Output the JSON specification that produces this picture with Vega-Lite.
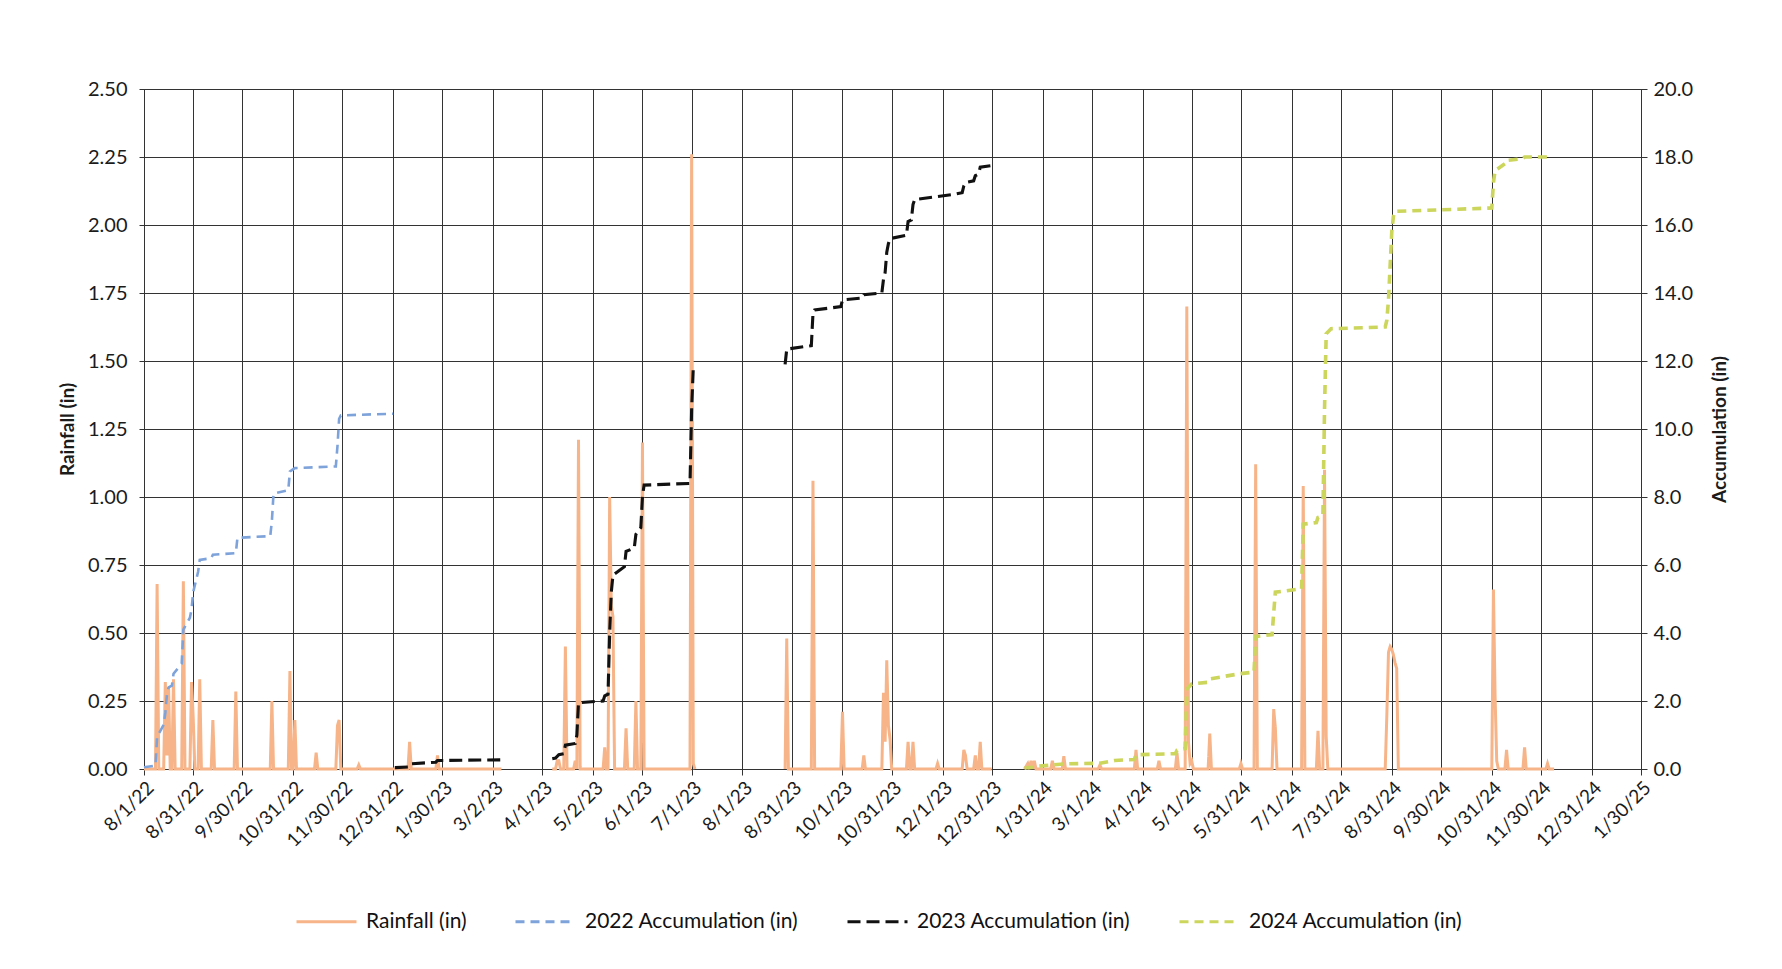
{
  "$schema": "https://vega.github.io/schema/vega-lite/v6.json",
  "autosize": {"type": "none"},
  "padding": {"left": 144, "top": 89, "right": 141, "bottom": 200},
  "width": 1497,
  "height": 680,
  "background": "white",
  "config": {
    "view": {"stroke": "#333333", "strokeWidth": 1},
    "font": "Lato",
    "axis": {
      "labelFont": "Lato", "titleFont": "Lato",
      "labelColor": "#1b1b1b", "titleColor": "#1b1b1b",
      "domainColor": "#333333", "tickColor": "#333333",
      "gridColor": "#333333", "gridOpacity": 1, "gridWidth": 1,
      "labelFontSize": 19, "titleFontSize": 19, "titleFontWeight": "bold"
    }
  },
  "datasets": {
    "rain": [
      {"d": "2022-08-01", "r": 0, "g": 1}, {"d": "2022-08-08", "r": 0, "g": 1}, {"d": "2022-08-09", "r": 0.68, "g": 1}, {"d": "2022-08-10", "r": 0, "g": 1},
      {"d": "2022-08-13", "r": 0, "g": 1}, {"d": "2022-08-14", "r": 0.32, "g": 1}, {"d": "2022-08-15", "r": 0.05, "g": 1}, {"d": "2022-08-16", "r": 0.3, "g": 1}, {"d": "2022-08-17", "r": 0, "g": 1},
      {"d": "2022-08-18", "r": 0, "g": 1}, {"d": "2022-08-19", "r": 0.33, "g": 1}, {"d": "2022-08-20", "r": 0, "g": 1},
      {"d": "2022-08-24", "r": 0, "g": 1}, {"d": "2022-08-25", "r": 0.69, "g": 1}, {"d": "2022-08-26", "r": 0, "g": 1},
      {"d": "2022-08-29", "r": 0, "g": 1}, {"d": "2022-08-30", "r": 0.32, "g": 1}, {"d": "2022-08-31", "r": 0.19, "g": 1}, {"d": "2022-09-01", "r": 0, "g": 1},
      {"d": "2022-09-03", "r": 0, "g": 1}, {"d": "2022-09-04", "r": 0.33, "g": 1}, {"d": "2022-09-05", "r": 0, "g": 1},
      {"d": "2022-09-11", "r": 0, "g": 1}, {"d": "2022-09-12", "r": 0.18, "g": 1}, {"d": "2022-09-13", "r": 0, "g": 1},
      {"d": "2022-09-25", "r": 0, "g": 1}, {"d": "2022-09-26", "r": 0.285, "g": 1}, {"d": "2022-09-27", "r": 0, "g": 1},
      {"d": "2022-10-17", "r": 0, "g": 1}, {"d": "2022-10-18", "r": 0.25, "g": 1}, {"d": "2022-10-19", "r": 0, "g": 1},
      {"d": "2022-10-28", "r": 0, "g": 1}, {"d": "2022-10-29", "r": 0.36, "g": 1}, {"d": "2022-10-30", "r": 0, "g": 1},
      {"d": "2022-10-31", "r": 0, "g": 1}, {"d": "2022-11-01", "r": 0.18, "g": 1}, {"d": "2022-11-02", "r": 0, "g": 1},
      {"d": "2022-11-13", "r": 0, "g": 1}, {"d": "2022-11-14", "r": 0.06, "g": 1}, {"d": "2022-11-15", "r": 0, "g": 1},
      {"d": "2022-11-26", "r": 0, "g": 1}, {"d": "2022-11-27", "r": 0.16, "g": 1}, {"d": "2022-11-28", "r": 0.18, "g": 1}, {"d": "2022-11-29", "r": 0, "g": 1},
      {"d": "2022-12-09", "r": 0, "g": 1}, {"d": "2022-12-10", "r": 0.015, "g": 1}, {"d": "2022-12-11", "r": 0, "g": 1},
      {"d": "2023-01-09", "r": 0, "g": 1}, {"d": "2023-01-10", "r": 0.1, "g": 1}, {"d": "2023-01-11", "r": 0, "g": 1},
      {"d": "2023-01-26", "r": 0, "g": 1}, {"d": "2023-01-27", "r": 0.05, "g": 1}, {"d": "2023-01-28", "r": 0, "g": 1},
      {"d": "2023-03-07", "r": 0, "g": 1},
      {"d": "2023-04-07", "r": 0, "g": 2}, {"d": "2023-04-09", "r": 0, "g": 2}, {"d": "2023-04-10", "r": 0.03, "g": 2}, {"d": "2023-04-11", "r": 0.03, "g": 2}, {"d": "2023-04-12", "r": 0, "g": 2},
      {"d": "2023-04-14", "r": 0, "g": 2}, {"d": "2023-04-15", "r": 0.45, "g": 2}, {"d": "2023-04-16", "r": 0, "g": 2},
      {"d": "2023-04-20", "r": 0, "g": 2}, {"d": "2023-04-21", "r": 0.03, "g": 2}, {"d": "2023-04-22", "r": 0, "g": 2}, {"d": "2023-04-23", "r": 1.21, "g": 2}, {"d": "2023-04-24", "r": 0, "g": 2},
      {"d": "2023-05-08", "r": 0, "g": 2}, {"d": "2023-05-09", "r": 0.08, "g": 2}, {"d": "2023-05-10", "r": 0, "g": 2},
      {"d": "2023-05-11", "r": 0, "g": 2}, {"d": "2023-05-12", "r": 1.0, "g": 2}, {"d": "2023-05-13", "r": 0.6, "g": 2}, {"d": "2023-05-14", "r": 0.56, "g": 2}, {"d": "2023-05-15", "r": 0, "g": 2},
      {"d": "2023-05-21", "r": 0, "g": 2}, {"d": "2023-05-22", "r": 0.15, "g": 2}, {"d": "2023-05-23", "r": 0, "g": 2},
      {"d": "2023-05-27", "r": 0, "g": 2}, {"d": "2023-05-28", "r": 0.25, "g": 2}, {"d": "2023-05-29", "r": 0, "g": 2},
      {"d": "2023-05-31", "r": 0, "g": 2}, {"d": "2023-06-01", "r": 1.2, "g": 2}, {"d": "2023-06-02", "r": 0, "g": 2},
      {"d": "2023-06-30", "r": 0, "g": 2}, {"d": "2023-07-01", "r": 2.26, "g": 2}, {"d": "2023-07-02", "r": 0.02, "g": 2}, {"d": "2023-07-03", "r": 0, "g": 2},
      {"d": "2023-08-27", "r": 0, "g": 3}, {"d": "2023-08-28", "r": 0.48, "g": 3}, {"d": "2023-08-29", "r": 0, "g": 3},
      {"d": "2023-09-12", "r": 0, "g": 3}, {"d": "2023-09-13", "r": 1.06, "g": 3}, {"d": "2023-09-14", "r": 0, "g": 3},
      {"d": "2023-09-30", "r": 0, "g": 3}, {"d": "2023-10-01", "r": 0.21, "g": 3}, {"d": "2023-10-02", "r": 0, "g": 3},
      {"d": "2023-10-13", "r": 0, "g": 3}, {"d": "2023-10-14", "r": 0.05, "g": 3}, {"d": "2023-10-15", "r": 0, "g": 3},
      {"d": "2023-10-25", "r": 0, "g": 3}, {"d": "2023-10-26", "r": 0.28, "g": 3}, {"d": "2023-10-27", "r": 0.1, "g": 3}, {"d": "2023-10-28", "r": 0.4, "g": 3}, {"d": "2023-10-29", "r": 0.16, "g": 3}, {"d": "2023-10-30", "r": 0.11, "g": 3}, {"d": "2023-10-31", "r": 0, "g": 3},
      {"d": "2023-11-09", "r": 0, "g": 3}, {"d": "2023-11-10", "r": 0.1, "g": 3}, {"d": "2023-11-11", "r": 0, "g": 3},
      {"d": "2023-11-12", "r": 0, "g": 3}, {"d": "2023-11-13", "r": 0.1, "g": 3}, {"d": "2023-11-14", "r": 0, "g": 3},
      {"d": "2023-11-27", "r": 0, "g": 3}, {"d": "2023-11-28", "r": 0.02, "g": 3}, {"d": "2023-11-29", "r": 0, "g": 3},
      {"d": "2023-12-13", "r": 0, "g": 3}, {"d": "2023-12-14", "r": 0.07, "g": 3}, {"d": "2023-12-15", "r": 0.05, "g": 3}, {"d": "2023-12-16", "r": 0, "g": 3},
      {"d": "2023-12-20", "r": 0, "g": 3}, {"d": "2023-12-21", "r": 0.05, "g": 3}, {"d": "2023-12-22", "r": 0, "g": 3},
      {"d": "2023-12-23", "r": 0, "g": 3}, {"d": "2023-12-24", "r": 0.1, "g": 3}, {"d": "2023-12-25", "r": 0, "g": 3},
      {"d": "2023-12-31", "r": 0, "g": 3},
      {"d": "2024-01-20", "r": 0, "g": 4}, {"d": "2024-01-22", "r": 0.02, "g": 4}, {"d": "2024-01-23", "r": 0, "g": 4}, {"d": "2024-01-24", "r": 0.03, "g": 4}, {"d": "2024-01-25", "r": 0, "g": 4}, {"d": "2024-01-26", "r": 0.03, "g": 4}, {"d": "2024-01-27", "r": 0, "g": 4},
      {"d": "2024-02-05", "r": 0, "g": 4}, {"d": "2024-02-06", "r": 0.03, "g": 4}, {"d": "2024-02-07", "r": 0, "g": 4},
      {"d": "2024-02-12", "r": 0, "g": 4}, {"d": "2024-02-13", "r": 0.047, "g": 4}, {"d": "2024-02-14", "r": 0, "g": 4},
      {"d": "2024-03-05", "r": 0, "g": 4}, {"d": "2024-03-06", "r": 0.015, "g": 4}, {"d": "2024-03-07", "r": 0, "g": 4},
      {"d": "2024-03-27", "r": 0, "g": 4}, {"d": "2024-03-28", "r": 0.07, "g": 4}, {"d": "2024-03-29", "r": 0, "g": 4},
      {"d": "2024-04-10", "r": 0, "g": 4}, {"d": "2024-04-11", "r": 0.03, "g": 4}, {"d": "2024-04-12", "r": 0, "g": 4},
      {"d": "2024-04-21", "r": 0, "g": 4}, {"d": "2024-04-22", "r": 0.06, "g": 4}, {"d": "2024-04-23", "r": 0, "g": 4},
      {"d": "2024-04-27", "r": 0, "g": 4}, {"d": "2024-04-28", "r": 1.7, "g": 4}, {"d": "2024-04-29", "r": 0.1, "g": 4}, {"d": "2024-04-30", "r": 0.02, "g": 4}, {"d": "2024-05-01", "r": 0.03, "g": 4}, {"d": "2024-05-02", "r": 0, "g": 4},
      {"d": "2024-05-11", "r": 0, "g": 4}, {"d": "2024-05-12", "r": 0.13, "g": 4}, {"d": "2024-05-13", "r": 0, "g": 4},
      {"d": "2024-05-30", "r": 0, "g": 4}, {"d": "2024-05-31", "r": 0.02, "g": 4}, {"d": "2024-06-01", "r": 0, "g": 4},
      {"d": "2024-06-08", "r": 0, "g": 4}, {"d": "2024-06-09", "r": 1.12, "g": 4}, {"d": "2024-06-10", "r": 0, "g": 4},
      {"d": "2024-06-19", "r": 0, "g": 4}, {"d": "2024-06-20", "r": 0.22, "g": 4}, {"d": "2024-06-21", "r": 0.15, "g": 4}, {"d": "2024-06-22", "r": 0, "g": 4},
      {"d": "2024-07-07", "r": 0, "g": 4}, {"d": "2024-07-08", "r": 1.04, "g": 4}, {"d": "2024-07-09", "r": 0, "g": 4},
      {"d": "2024-07-16", "r": 0, "g": 4}, {"d": "2024-07-17", "r": 0.14, "g": 4}, {"d": "2024-07-18", "r": 0, "g": 4},
      {"d": "2024-07-20", "r": 0, "g": 4}, {"d": "2024-07-21", "r": 1.1, "g": 4}, {"d": "2024-07-22", "r": 0.12, "g": 4}, {"d": "2024-07-23", "r": 0, "g": 4},
      {"d": "2024-08-27", "r": 0, "g": 4}, {"d": "2024-08-28", "r": 0.2, "g": 4}, {"d": "2024-08-29", "r": 0.43, "g": 4}, {"d": "2024-08-30", "r": 0.45, "g": 4}, {"d": "2024-08-31", "r": 0.44, "g": 4}, {"d": "2024-09-01", "r": 0.42, "g": 4}, {"d": "2024-09-02", "r": 0.39, "g": 4}, {"d": "2024-09-03", "r": 0.37, "g": 4}, {"d": "2024-09-04", "r": 0, "g": 4},
      {"d": "2024-10-31", "r": 0, "g": 4}, {"d": "2024-11-01", "r": 0.66, "g": 4}, {"d": "2024-11-02", "r": 0.27, "g": 4}, {"d": "2024-11-03", "r": 0.03, "g": 4}, {"d": "2024-11-04", "r": 0, "g": 4},
      {"d": "2024-11-08", "r": 0, "g": 4}, {"d": "2024-11-09", "r": 0.07, "g": 4}, {"d": "2024-11-10", "r": 0, "g": 4},
      {"d": "2024-11-19", "r": 0, "g": 4}, {"d": "2024-11-20", "r": 0.08, "g": 4}, {"d": "2024-11-21", "r": 0, "g": 4},
      {"d": "2024-12-03", "r": 0, "g": 4}, {"d": "2024-12-04", "r": 0.02, "g": 4}, {"d": "2024-12-05", "r": 0, "g": 4},
      {"d": "2024-12-08", "r": 0, "g": 4}
    ],
    "acc": [
      {"d": "2022-08-01", "a": 0.05, "s": "2022 Accumulation (in)", "g": 1}, {"d": "2022-08-08", "a": 0.1, "s": "2022 Accumulation (in)", "g": 1},
      {"d": "2022-08-09", "a": 0.95, "s": "2022 Accumulation (in)", "g": 1}, {"d": "2022-08-13", "a": 1.3, "s": "2022 Accumulation (in)", "g": 1},
      {"d": "2022-08-14", "a": 1.65, "s": "2022 Accumulation (in)", "g": 1}, {"d": "2022-08-15", "a": 2.2, "s": "2022 Accumulation (in)", "g": 1},
      {"d": "2022-08-16", "a": 2.4, "s": "2022 Accumulation (in)", "g": 1}, {"d": "2022-08-18", "a": 2.45, "s": "2022 Accumulation (in)", "g": 1},
      {"d": "2022-08-19", "a": 2.8, "s": "2022 Accumulation (in)", "g": 1}, {"d": "2022-08-24", "a": 3.1, "s": "2022 Accumulation (in)", "g": 1},
      {"d": "2022-08-25", "a": 4.1, "s": "2022 Accumulation (in)", "g": 1}, {"d": "2022-08-29", "a": 4.45, "s": "2022 Accumulation (in)", "g": 1},
      {"d": "2022-08-30", "a": 4.7, "s": "2022 Accumulation (in)", "g": 1}, {"d": "2022-08-31", "a": 5.2, "s": "2022 Accumulation (in)", "g": 1},
      {"d": "2022-09-03", "a": 5.8, "s": "2022 Accumulation (in)", "g": 1}, {"d": "2022-09-04", "a": 6.15, "s": "2022 Accumulation (in)", "g": 1},
      {"d": "2022-09-11", "a": 6.2, "s": "2022 Accumulation (in)", "g": 1}, {"d": "2022-09-12", "a": 6.3, "s": "2022 Accumulation (in)", "g": 1},
      {"d": "2022-09-26", "a": 6.35, "s": "2022 Accumulation (in)", "g": 1}, {"d": "2022-09-27", "a": 6.8, "s": "2022 Accumulation (in)", "g": 1},
      {"d": "2022-10-17", "a": 6.85, "s": "2022 Accumulation (in)", "g": 1}, {"d": "2022-10-18", "a": 7.3, "s": "2022 Accumulation (in)", "g": 1},
      {"d": "2022-10-19", "a": 8.1, "s": "2022 Accumulation (in)", "g": 1}, {"d": "2022-10-28", "a": 8.2, "s": "2022 Accumulation (in)", "g": 1},
      {"d": "2022-10-29", "a": 8.75, "s": "2022 Accumulation (in)", "g": 1}, {"d": "2022-11-01", "a": 8.85, "s": "2022 Accumulation (in)", "g": 1},
      {"d": "2022-11-26", "a": 8.9, "s": "2022 Accumulation (in)", "g": 1}, {"d": "2022-11-27", "a": 9.5, "s": "2022 Accumulation (in)", "g": 1},
      {"d": "2022-11-28", "a": 10.3, "s": "2022 Accumulation (in)", "g": 1}, {"d": "2022-11-29", "a": 10.4, "s": "2022 Accumulation (in)", "g": 1},
      {"d": "2022-12-31", "a": 10.45, "s": "2022 Accumulation (in)", "g": 1},

      {"d": "2023-01-01", "a": 0.04, "s": "2023 Accumulation (in)", "g": 1}, {"d": "2023-01-09", "a": 0.06, "s": "2023 Accumulation (in)", "g": 1},
      {"d": "2023-01-10", "a": 0.15, "s": "2023 Accumulation (in)", "g": 1}, {"d": "2023-01-26", "a": 0.2, "s": "2023 Accumulation (in)", "g": 1},
      {"d": "2023-01-27", "a": 0.25, "s": "2023 Accumulation (in)", "g": 1}, {"d": "2023-03-07", "a": 0.27, "s": "2023 Accumulation (in)", "g": 1},
      {"d": "2023-04-07", "a": 0.3, "s": "2023 Accumulation (in)", "g": 2}, {"d": "2023-04-09", "a": 0.32, "s": "2023 Accumulation (in)", "g": 2},
      {"d": "2023-04-11", "a": 0.42, "s": "2023 Accumulation (in)", "g": 2}, {"d": "2023-04-14", "a": 0.45, "s": "2023 Accumulation (in)", "g": 2},
      {"d": "2023-04-15", "a": 0.7, "s": "2023 Accumulation (in)", "g": 2}, {"d": "2023-04-21", "a": 0.75, "s": "2023 Accumulation (in)", "g": 2},
      {"d": "2023-04-22", "a": 1.0, "s": "2023 Accumulation (in)", "g": 2}, {"d": "2023-04-23", "a": 1.95, "s": "2023 Accumulation (in)", "g": 2},
      {"d": "2023-05-08", "a": 2.0, "s": "2023 Accumulation (in)", "g": 2}, {"d": "2023-05-09", "a": 2.15, "s": "2023 Accumulation (in)", "g": 2},
      {"d": "2023-05-11", "a": 2.2, "s": "2023 Accumulation (in)", "g": 2}, {"d": "2023-05-12", "a": 4.0, "s": "2023 Accumulation (in)", "g": 2},
      {"d": "2023-05-13", "a": 5.2, "s": "2023 Accumulation (in)", "g": 2}, {"d": "2023-05-14", "a": 5.7, "s": "2023 Accumulation (in)", "g": 2},
      {"d": "2023-05-21", "a": 5.95, "s": "2023 Accumulation (in)", "g": 2}, {"d": "2023-05-22", "a": 6.4, "s": "2023 Accumulation (in)", "g": 2},
      {"d": "2023-05-27", "a": 6.5, "s": "2023 Accumulation (in)", "g": 2}, {"d": "2023-05-28", "a": 6.9, "s": "2023 Accumulation (in)", "g": 2},
      {"d": "2023-05-31", "a": 7.1, "s": "2023 Accumulation (in)", "g": 2}, {"d": "2023-06-01", "a": 8.0, "s": "2023 Accumulation (in)", "g": 2},
      {"d": "2023-06-02", "a": 8.35, "s": "2023 Accumulation (in)", "g": 2}, {"d": "2023-06-30", "a": 8.4, "s": "2023 Accumulation (in)", "g": 2},
      {"d": "2023-07-01", "a": 10.6, "s": "2023 Accumulation (in)", "g": 2}, {"d": "2023-07-02", "a": 11.8, "s": "2023 Accumulation (in)", "g": 2},
      {"d": "2023-07-03", "a": 11.85, "s": "2023 Accumulation (in)", "g": 2},
      {"d": "2023-08-27", "a": 11.9, "s": "2023 Accumulation (in)", "g": 3}, {"d": "2023-08-28", "a": 12.35, "s": "2023 Accumulation (in)", "g": 3},
      {"d": "2023-09-12", "a": 12.45, "s": "2023 Accumulation (in)", "g": 3}, {"d": "2023-09-13", "a": 13.4, "s": "2023 Accumulation (in)", "g": 3},
      {"d": "2023-09-14", "a": 13.5, "s": "2023 Accumulation (in)", "g": 3}, {"d": "2023-09-30", "a": 13.6, "s": "2023 Accumulation (in)", "g": 3},
      {"d": "2023-10-01", "a": 13.8, "s": "2023 Accumulation (in)", "g": 3}, {"d": "2023-10-13", "a": 13.85, "s": "2023 Accumulation (in)", "g": 3},
      {"d": "2023-10-14", "a": 13.95, "s": "2023 Accumulation (in)", "g": 3}, {"d": "2023-10-25", "a": 14.0, "s": "2023 Accumulation (in)", "g": 3},
      {"d": "2023-10-26", "a": 14.4, "s": "2023 Accumulation (in)", "g": 3}, {"d": "2023-10-27", "a": 14.6, "s": "2023 Accumulation (in)", "g": 3},
      {"d": "2023-10-28", "a": 15.2, "s": "2023 Accumulation (in)", "g": 3}, {"d": "2023-10-29", "a": 15.45, "s": "2023 Accumulation (in)", "g": 3},
      {"d": "2023-10-30", "a": 15.6, "s": "2023 Accumulation (in)", "g": 3}, {"d": "2023-11-09", "a": 15.7, "s": "2023 Accumulation (in)", "g": 3},
      {"d": "2023-11-10", "a": 16.1, "s": "2023 Accumulation (in)", "g": 3}, {"d": "2023-11-12", "a": 16.15, "s": "2023 Accumulation (in)", "g": 3},
      {"d": "2023-11-13", "a": 16.6, "s": "2023 Accumulation (in)", "g": 3}, {"d": "2023-11-14", "a": 16.75, "s": "2023 Accumulation (in)", "g": 3},
      {"d": "2023-12-08", "a": 16.9, "s": "2023 Accumulation (in)", "g": 3}, {"d": "2023-12-13", "a": 16.95, "s": "2023 Accumulation (in)", "g": 3},
      {"d": "2023-12-14", "a": 17.15, "s": "2023 Accumulation (in)", "g": 3}, {"d": "2023-12-15", "a": 17.25, "s": "2023 Accumulation (in)", "g": 3},
      {"d": "2023-12-20", "a": 17.3, "s": "2023 Accumulation (in)", "g": 3}, {"d": "2023-12-21", "a": 17.45, "s": "2023 Accumulation (in)", "g": 3},
      {"d": "2023-12-23", "a": 17.5, "s": "2023 Accumulation (in)", "g": 3}, {"d": "2023-12-24", "a": 17.7, "s": "2023 Accumulation (in)", "g": 3},
      {"d": "2023-12-31", "a": 17.75, "s": "2023 Accumulation (in)", "g": 3},

      {"d": "2024-01-20", "a": 0.03, "s": "2024 Accumulation (in)", "g": 1}, {"d": "2024-01-25", "a": 0.05, "s": "2024 Accumulation (in)", "g": 1},
      {"d": "2024-01-28", "a": 0.08, "s": "2024 Accumulation (in)", "g": 1}, {"d": "2024-02-06", "a": 0.12, "s": "2024 Accumulation (in)", "g": 1},
      {"d": "2024-02-13", "a": 0.15, "s": "2024 Accumulation (in)", "g": 1}, {"d": "2024-03-06", "a": 0.17, "s": "2024 Accumulation (in)", "g": 1},
      {"d": "2024-03-15", "a": 0.25, "s": "2024 Accumulation (in)", "g": 1}, {"d": "2024-03-27", "a": 0.28, "s": "2024 Accumulation (in)", "g": 1},
      {"d": "2024-03-28", "a": 0.42, "s": "2024 Accumulation (in)", "g": 1}, {"d": "2024-04-21", "a": 0.45, "s": "2024 Accumulation (in)", "g": 1},
      {"d": "2024-04-22", "a": 0.55, "s": "2024 Accumulation (in)", "g": 1}, {"d": "2024-04-27", "a": 0.6, "s": "2024 Accumulation (in)", "g": 1},
      {"d": "2024-04-28", "a": 2.35, "s": "2024 Accumulation (in)", "g": 1}, {"d": "2024-05-01", "a": 2.5, "s": "2024 Accumulation (in)", "g": 1},
      {"d": "2024-05-11", "a": 2.55, "s": "2024 Accumulation (in)", "g": 1}, {"d": "2024-05-12", "a": 2.65, "s": "2024 Accumulation (in)", "g": 1},
      {"d": "2024-05-30", "a": 2.8, "s": "2024 Accumulation (in)", "g": 1}, {"d": "2024-06-08", "a": 2.85, "s": "2024 Accumulation (in)", "g": 1},
      {"d": "2024-06-09", "a": 3.9, "s": "2024 Accumulation (in)", "g": 1}, {"d": "2024-06-19", "a": 3.95, "s": "2024 Accumulation (in)", "g": 1},
      {"d": "2024-06-20", "a": 4.6, "s": "2024 Accumulation (in)", "g": 1}, {"d": "2024-06-21", "a": 5.2, "s": "2024 Accumulation (in)", "g": 1},
      {"d": "2024-07-07", "a": 5.3, "s": "2024 Accumulation (in)", "g": 1}, {"d": "2024-07-08", "a": 7.2, "s": "2024 Accumulation (in)", "g": 1},
      {"d": "2024-07-16", "a": 7.25, "s": "2024 Accumulation (in)", "g": 1}, {"d": "2024-07-17", "a": 7.4, "s": "2024 Accumulation (in)", "g": 1},
      {"d": "2024-07-20", "a": 7.45, "s": "2024 Accumulation (in)", "g": 1}, {"d": "2024-07-21", "a": 10.6, "s": "2024 Accumulation (in)", "g": 1},
      {"d": "2024-07-22", "a": 12.8, "s": "2024 Accumulation (in)", "g": 1}, {"d": "2024-07-25", "a": 12.95, "s": "2024 Accumulation (in)", "g": 1},
      {"d": "2024-08-27", "a": 13.0, "s": "2024 Accumulation (in)", "g": 1}, {"d": "2024-08-28", "a": 13.2, "s": "2024 Accumulation (in)", "g": 1},
      {"d": "2024-08-29", "a": 13.8, "s": "2024 Accumulation (in)", "g": 1}, {"d": "2024-08-30", "a": 14.8, "s": "2024 Accumulation (in)", "g": 1},
      {"d": "2024-08-31", "a": 15.8, "s": "2024 Accumulation (in)", "g": 1}, {"d": "2024-09-01", "a": 16.25, "s": "2024 Accumulation (in)", "g": 1},
      {"d": "2024-09-02", "a": 16.4, "s": "2024 Accumulation (in)", "g": 1}, {"d": "2024-10-31", "a": 16.5, "s": "2024 Accumulation (in)", "g": 1},
      {"d": "2024-11-01", "a": 17.25, "s": "2024 Accumulation (in)", "g": 1}, {"d": "2024-11-02", "a": 17.6, "s": "2024 Accumulation (in)", "g": 1},
      {"d": "2024-11-08", "a": 17.8, "s": "2024 Accumulation (in)", "g": 1}, {"d": "2024-11-09", "a": 17.9, "s": "2024 Accumulation (in)", "g": 1},
      {"d": "2024-11-19", "a": 17.95, "s": "2024 Accumulation (in)", "g": 1}, {"d": "2024-11-20", "a": 18.0, "s": "2024 Accumulation (in)", "g": 1},
      {"d": "2024-12-05", "a": 18.0, "s": "2024 Accumulation (in)", "g": 1}
    ]
  },
  "encoding": {
    "x": {
      "field": "d",
      "type": "temporal",
      "scale": {
        "type": "utc",
        "domain": [{"year": 2022, "month": 8, "date": 1, "utc": true}, {"year": 2025, "month": 1, "date": 30, "utc": true}]
      },
      "axis": {
        "title": null,
        "grid": true,
        "format": "%-m/%-d/%y",
        "labelAngle": -45,
        "labelAlign": "right",
        "labelBaseline": "top",
        "labelFontSize": 19,
        "labelPadding": 3,
        "labelOverlap": false,
        "labelBound": false,
        "labelFlush": false,
        "tickSize": 6,
        "values": [
          {"year": 2022, "month": 8, "date": 1, "utc": true}, {"year": 2022, "month": 8, "date": 31, "utc": true},
          {"year": 2022, "month": 9, "date": 30, "utc": true}, {"year": 2022, "month": 10, "date": 31, "utc": true},
          {"year": 2022, "month": 11, "date": 30, "utc": true}, {"year": 2022, "month": 12, "date": 31, "utc": true},
          {"year": 2023, "month": 1, "date": 30, "utc": true}, {"year": 2023, "month": 3, "date": 2, "utc": true},
          {"year": 2023, "month": 4, "date": 1, "utc": true}, {"year": 2023, "month": 5, "date": 2, "utc": true},
          {"year": 2023, "month": 6, "date": 1, "utc": true}, {"year": 2023, "month": 7, "date": 1, "utc": true},
          {"year": 2023, "month": 8, "date": 1, "utc": true}, {"year": 2023, "month": 8, "date": 31, "utc": true},
          {"year": 2023, "month": 10, "date": 1, "utc": true}, {"year": 2023, "month": 10, "date": 31, "utc": true},
          {"year": 2023, "month": 12, "date": 1, "utc": true}, {"year": 2023, "month": 12, "date": 31, "utc": true},
          {"year": 2024, "month": 1, "date": 31, "utc": true}, {"year": 2024, "month": 3, "date": 1, "utc": true},
          {"year": 2024, "month": 4, "date": 1, "utc": true}, {"year": 2024, "month": 5, "date": 1, "utc": true},
          {"year": 2024, "month": 5, "date": 31, "utc": true}, {"year": 2024, "month": 7, "date": 1, "utc": true},
          {"year": 2024, "month": 7, "date": 31, "utc": true}, {"year": 2024, "month": 8, "date": 31, "utc": true},
          {"year": 2024, "month": 9, "date": 30, "utc": true}, {"year": 2024, "month": 10, "date": 31, "utc": true},
          {"year": 2024, "month": 11, "date": 30, "utc": true}, {"year": 2024, "month": 12, "date": 31, "utc": true},
          {"year": 2025, "month": 1, "date": 30, "utc": true}
        ]
      }
    }
  },
  "layer": [
    {
      "data": {"name": "rain"},
      "mark": {"type": "line", "strokeWidth": 3, "strokeJoin": "miter"},
      "encoding": {
        "y": {
          "field": "r",
          "type": "quantitative",
          "scale": {"domain": [0, 2.5], "nice": false},
          "axis": {
            "title": "Rainfall (in)",
            "grid": true,
            "values": [0, 0.25, 0.5, 0.75, 1, 1.25, 1.5, 1.75, 2, 2.25, 2.5],
            "format": ".2f",
            "labelFontSize": 20,
            "labelPadding": 12,
            "tickSize": 5,
            "titlePadding": 10
          }
        },
        "detail": {"field": "g", "type": "nominal"},
        "color": {
          "datum": "Rainfall (in)",
          "type": "nominal",
          "scale": {
            "domain": ["Rainfall (in)", "2022 Accumulation (in)", "2023 Accumulation (in)", "2024 Accumulation (in)"],
            "range": ["#F6B488", "#7EA3DA", "#111111", "#CCD55C"]
          }
        },
        "strokeDash": {
          "datum": "Rainfall (in)",
          "type": "nominal",
          "scale": {
            "domain": ["Rainfall (in)", "2022 Accumulation (in)", "2023 Accumulation (in)", "2024 Accumulation (in)"],
            "range": [[1, 0], [9, 6], [13, 6], [9, 6]]
          }
        }
      }
    },
    {
      "data": {"name": "acc"},
      "mark": {"type": "line", "strokeJoin": "miter"},
      "encoding": {
        "y": {
          "field": "a",
          "type": "quantitative",
          "scale": {"domain": [0, 20], "nice": false},
          "axis": {
            "orient": "right",
            "title": "Accumulation (in)",
            "titleAngle": 270,
            "titleBaseline": "top",
            "grid": false,
            "values": [0, 2, 4, 6, 8, 10, 12, 14, 16, 18, 20],
            "format": ".1f",
            "labelFontSize": 20,
            "labelPadding": 6,
            "tickSize": 6,
            "titlePadding": 18
          }
        },
        "detail": {"field": "g", "type": "nominal"},
        "strokeWidth": {
          "field": "s",
          "type": "nominal",
          "scale": {
            "domain": ["2022 Accumulation (in)", "2023 Accumulation (in)", "2024 Accumulation (in)"],
            "range": [2.6, 3.6, 2.6]
          },
          "legend": null
        },
        "color": {
          "field": "s",
          "type": "nominal",
          "scale": {
            "domain": ["Rainfall (in)", "2022 Accumulation (in)", "2023 Accumulation (in)", "2024 Accumulation (in)"],
            "range": ["#F6B488", "#7EA3DA", "#111111", "#CCD55C"]
          },
          "legend": {
            "orient": "none",
            "legendX": 151,
            "legendY": 801,
            "direction": "horizontal",
            "title": null,
            "symbolType": "stroke",
            "symbolSize": 3600,
            "symbolStrokeWidth": 3,
            "labelFontSize": 21,
            "labelFont": "Lato",
            "labelColor": "#111111",
            "labelLimit": 400,
            "labelOffset": 8,
            "columnPadding": 42
          }
        },
        "strokeDash": {
          "field": "s",
          "type": "nominal",
          "scale": {
            "domain": ["Rainfall (in)", "2022 Accumulation (in)", "2023 Accumulation (in)", "2024 Accumulation (in)"],
            "range": [[1, 0], [9, 6], [13, 6], [9, 6]]
          },
          "legend": {
            "orient": "none",
            "legendX": 151,
            "legendY": 801,
            "direction": "horizontal",
            "title": null,
            "symbolType": "stroke",
            "symbolSize": 3600,
            "symbolStrokeWidth": 3,
            "labelFontSize": 21,
            "labelFont": "Lato",
            "labelColor": "#111111",
            "labelLimit": 400,
            "labelOffset": 8,
            "columnPadding": 42
          }
        }
      }
    }
  ],
  "resolve": {"scale": {"y": "independent"}}
}
